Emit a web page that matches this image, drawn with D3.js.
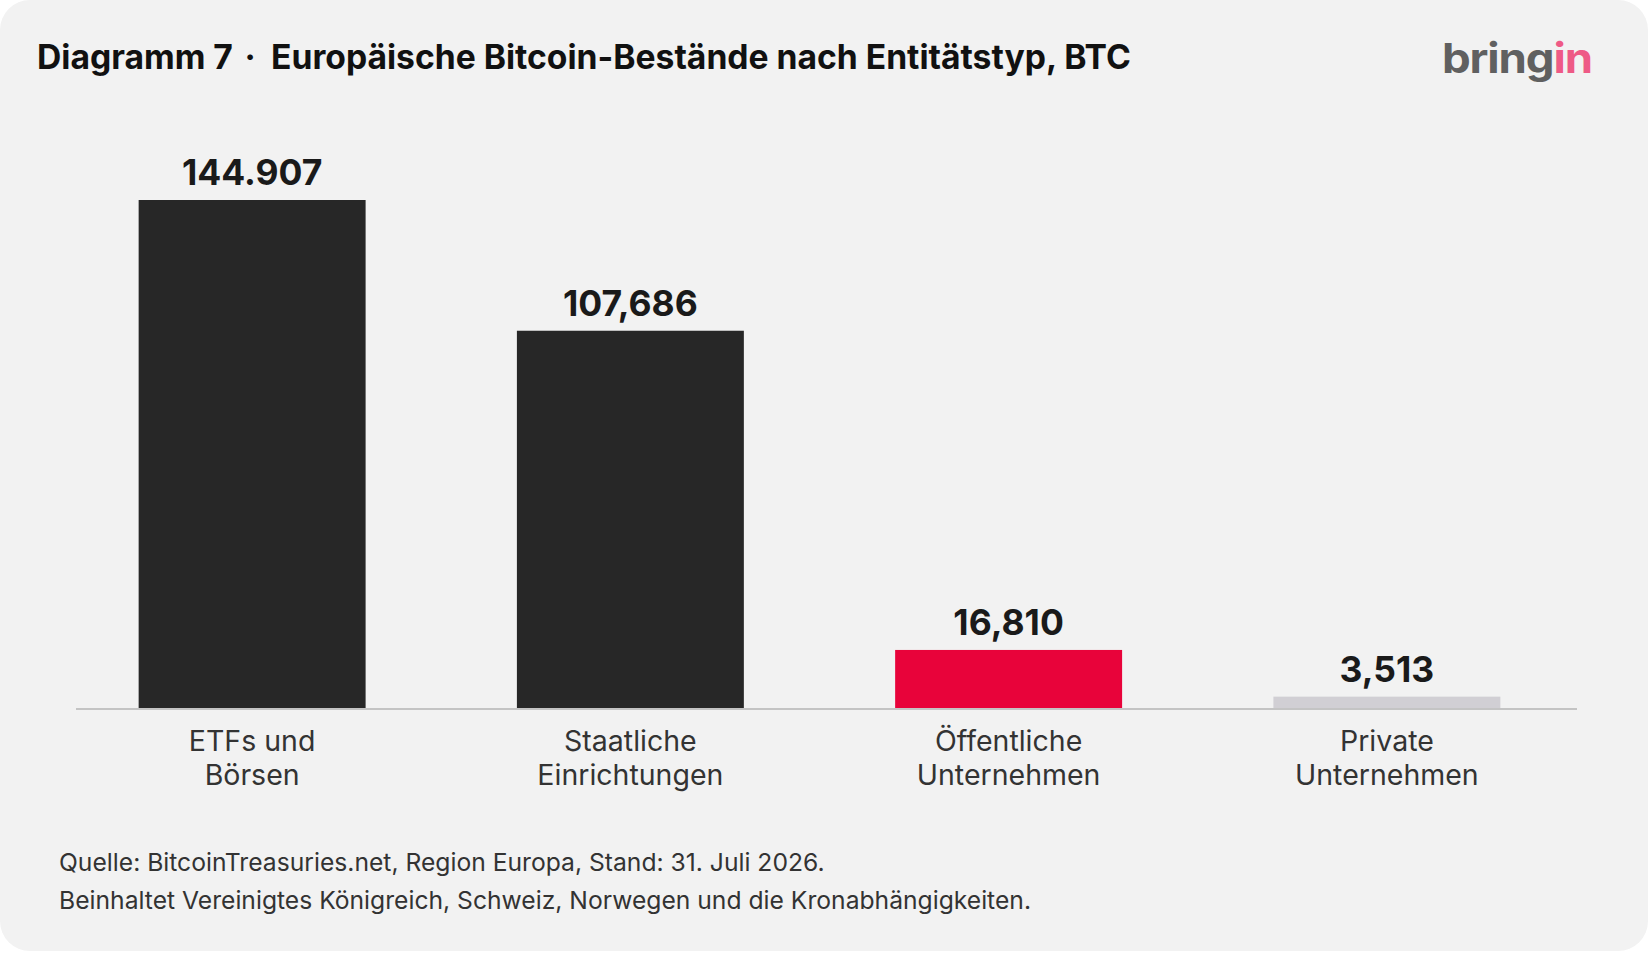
<!DOCTYPE html>
<html>
<head>
<meta charset="utf-8">
<script src="https://cdn.jsdelivr.net/npm/d3@7"></script>
<style>
  html, body { margin: 0; padding: 0; background: #ffffff; }
  svg { display: block; font-family: Inter, "Noto Sans", sans-serif; }
</style>
</head>
<body>
<svg></svg>
<script>
const width = 1651;
const height = 953;

// data
const categories = ["ETFs und Börsen", "Staatliche Einrichtungen", "Öffentliche Unternehmen", "Private Unternehmen"];
const categoryLines = [["ETFs und", "Börsen"], ["Staatliche", "Einrichtungen"], ["Öffentliche", "Unternehmen"], ["Private", "Unternehmen"]];
const values = [144907, 107686, 16810, 3513];
const valueLabels = ["144.907", "107,686", "16,810", "3,513"];
const footnotes = [
    "Quelle: BitcoinTreasuries.net, Region Europa, Stand: 31. Juli 2026.",
    "Beinhaltet Vereinigtes Königreich, Schweiz, Norwegen und die Kronabhängigkeiten."
];

const barColors = ["#272727", "#272727", "#e8033a", "#d1cfd4"];

let svg = d3.select("svg")
    .attr("width", width)
    .attr("height", height);

// fit a text element's font size so it spans a given width
function fitWidth(sel, target, base) {
    sel.style("font-size", base + "px");
    let w = sel.node().getComputedTextLength();
    sel.style("font-size", (base * target / w).toFixed(2) + "px");
}

// card
svg.append("rect")
    .attr("x", 0)
    .attr("y", 0)
    .attr("width", width - 3)
    .attr("height", height - 2)
    .attr("rx", 30)
    .style("fill", "#f2f2f2");

// title
let titleMain = svg.append("text")
    .attr("x", 271)
    .attr("y", 69)
    .style("font-weight", 700)
    .style("fill", "#111111")
    .text("Europäische Bitcoin-Bestände nach Entitätstyp, BTC");
fitWidth(titleMain, 860, 31);
let titleSize = titleMain.style("font-size");

svg.append("text")
    .attr("x", 37)
    .attr("y", 69)
    .style("font-size", titleSize)
    .style("font-weight", 700)
    .style("fill", "#111111")
    .text("Diagramm 7");

svg.append("text")
    .attr("x", 250)
    .attr("y", 69)
    .attr("text-anchor", "middle")
    .style("font-size", titleSize)
    .style("font-weight", 700)
    .style("fill", "#111111")
    .text("·");

// logo
let logo = svg.append("text")
    .attr("x", 1442)
    .attr("y", 73)
    .attr("textLength", 150)
    .attr("lengthAdjust", "spacingAndGlyphs")
    .style("font-size", "41px")
    .style("font-weight", 700)
    .style("letter-spacing", "-1px");
logo.append("tspan").style("fill", "#606060").text("bring");
logo.append("tspan").style("fill", "#ee5a86").text("in");

// scales
const x = d3.scaleBand()
    .domain(categories)
    .range([63, 1576])
    .paddingInner(0.4)
    .paddingOuter(0.2);

const y = d3.scaleLinear()
    .domain([0, d3.max(values)])
    .range([709, 200]);

const color = d3.scaleOrdinal()
    .domain(categories)
    .range(barColors);

// bars
svg.append("g")
    .selectAll("rect")
    .data(values)
    .join("rect")
    .attr("x", (d, i) => x(categories[i]))
    .attr("y", d => y(d))
    .attr("width", x.bandwidth())
    .attr("height", d => y(0) - y(d))
    .style("fill", (d, i) => color(categories[i]));

// baseline
svg.append("line")
    .attr("x1", 76)
    .attr("x2", 1577)
    .attr("y1", y(0))
    .attr("y2", y(0))
    .style("stroke", "#c4c4c4")
    .style("stroke-width", 2);

// value labels
svg.append("g")
    .selectAll("text")
    .data(values)
    .join("text")
    .attr("x", (d, i) => x(categories[i]) + x.bandwidth() / 2)
    .attr("y", d => y(d) - 15)
    .attr("text-anchor", "middle")
    .style("font-size", "35.5px")
    .style("font-weight", 700)
    .style("fill", "#1a1a1a")
    .text((d, i) => valueLabels[i]);

// category axis
let axis = svg.append("g")
    .attr("transform", `translate(0,${y(0)})`)
    .call(d3.axisBottom(x).tickSize(0).tickFormat(""));
axis.select(".domain").remove();

axis.selectAll(".tick text")
    .attr("y", 0)
    .attr("dy", null)
    .style("font-family", "Inter, 'Noto Sans', sans-serif")
    .style("font-size", "28.5px")
    .style("fill", "#333333")
    .each(function(d, i) {
        let t = d3.select(this);
        categoryLines[i].forEach((line, k) => {
            t.append("tspan")
                .attr("x", 0)
                .attr("y", 42 + k * 34)
                .text(line);
        });
    });

// footnotes
let notes = svg.append("g")
    .selectAll("text")
    .data(footnotes)
    .join("text")
    .attr("x", 59)
    .attr("y", (d, i) => 871 + i * 38)
    .style("fill", "#333333")
    .text(d => d);
fitWidth(d3.select(notes.nodes()[1]), 972, 24);
notes.style("font-size", d3.select(notes.nodes()[1]).style("font-size"));
</script>
</body>
</html>
